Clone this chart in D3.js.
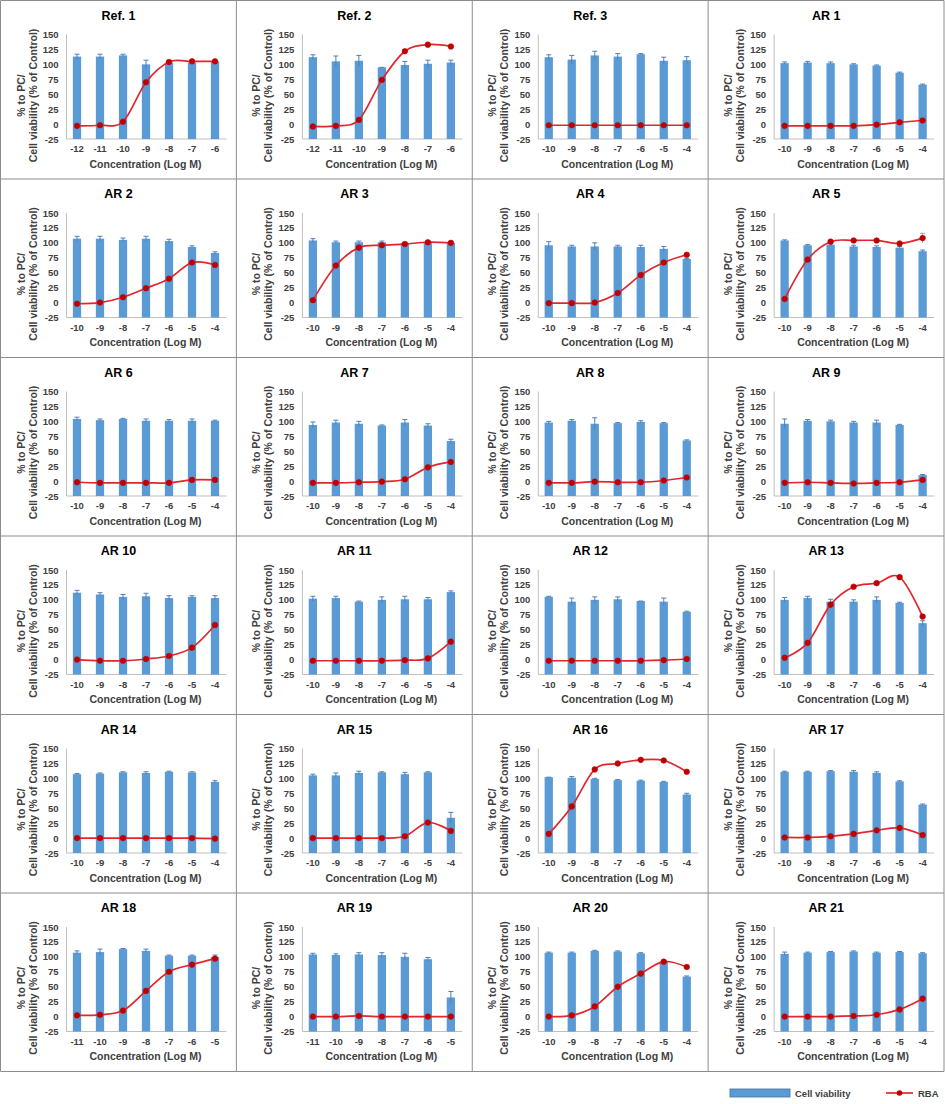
<!DOCTYPE html>
<html>
<head>
<meta charset="utf-8">
<script src="https://cdn.jsdelivr.net/npm/d3@7"></script>
<style>
  html, body { margin: 0; padding: 0; background: #fff; }
  svg { display: block; font-family: "Liberation Sans", Arial, sans-serif; }
</style>
</head>
<body>
<svg id="chart" width="945" height="1104"></svg>
<script>
// ---------------- DATA ----------------
const panelTitles = ["Ref. 1","Ref. 2","Ref. 3","AR 1","AR 2","AR 3","AR 4","AR 5",
  "AR 6","AR 7","AR 8","AR 9","AR 10","AR 11","AR 12","AR 13",
  "AR 14","AR 15","AR 16","AR 17","AR 18","AR 19","AR 20","AR 21"];

const concA = ["-12","-11","-10","-9","-8","-7","-6"];
const concB = ["-10","-9","-8","-7","-6","-5","-4"];
const concC = ["-11","-10","-9","-8","-7","-6","-5"];
const concLabels = [concA, concA, concB, concB, concB, concB, concB, concB,
  concB, concB, concB, concB, concB, concB, concB, concB,
  concB, concB, concB, concB, concC, concC, concB, concB];

const cellViability = [
  [113,113,115,100,103,103,105],
  [112,105,106,95,99,101,103],
  [112,108,115,113,117,106,107],
  [102,103,102,100,98,86,66],
  [107,107,105,107,103,93,83],
  [104,101,101,101,100,102,100],
  [96,94,94,94,93,90,73],
  [104,96,97,94,93,92,86],
  [104,102,104,101,101,101,101],
  [94,98,96,93,98,93,67],
  [98,101,96,97,99,97,68],
  [96,101,100,98,98,94,10],
  [112,109,105,106,103,105,103],
  [102,103,97,100,101,101,113],
  [105,97,100,101,98,97,80],
  [100,103,97,97,100,95,61],
  [107,108,110,109,111,110,94],
  [105,105,109,110,107,110,34],
  [102,101,99,97,96,94,73],
  [111,111,112,111,109,95,56],
  [107,108,113,110,102,102,100],
  [104,103,104,103,100,96,32],
  [107,107,110,109,106,92,67],
  [105,107,108,109,107,108,106]
];

const cellViabilityErr = [
  [4,4,2,7,3,2,2],
  [4,9,9,0,6,6,4],
  [4,7,7,5,1,6,6],
  [2,2,2,1,1,1,1],
  [4,4,3,4,3,2,2],
  [3,2,2,2,1,1,1],
  [6,2,6,2,3,4,1],
  [1,1,2,2,2,2,2],
  [3,2,1,3,2,3,1],
  [5,4,4,1,5,3,3],
  [2,2,10,1,2,1,1],
  [8,2,2,2,4,1,1],
  [4,3,4,5,4,2,4],
  [4,3,1,5,5,3,2],
  [1,6,5,4,0,6,1],
  [4,3,4,3,5,1,4],
  [1,1,1,2,1,1,2],
  [2,4,3,1,3,1,9],
  [0,2,1,1,1,1,2],
  [1,1,1,2,2,1,1],
  [3,5,1,3,1,1,3],
  [2,2,3,4,6,3,10],
  [1,1,1,1,1,1,1],
  [3,1,1,1,1,1,1]
];

const rbaValues = [
  [-3,-2,4,70,104,105,105],
  [-4,-3,7,74,122,133,130],
  [-2,-2,-2,-2,-2,-2,-2],
  [-3,-3,-3,-3,-1,3,6],
  [-2,0,9,24,40,67,63],
  [4,62,92,96,98,101,100],
  [-1,-1,0,16,46,67,80],
  [6,72,102,104,104,99,108],
  [-2,-3,-3,-3,-3,2,2],
  [-3,-3,-2,-1,3,23,32],
  [-3,-3,-1,-2,-2,1,6],
  [-3,-2,-3,-4,-3,-2,2],
  [0,-2,-2,1,6,20,58],
  [-2,-2,-2,-2,-1,2,30],
  [-2,-2,-2,-2,-2,-1,1],
  [3,28,92,122,128,138,72],
  [0,0,0,0,0,0,-1],
  [0,0,0,0,3,26,12],
  [7,53,115,125,131,130,111],
  [1,1,3,7,13,17,5],
  [2,3,10,43,75,87,97],
  [0,0,1,0,0,0,0],
  [0,2,17,50,72,92,83],
  [0,0,0,1,3,12,30]
];

const rbaErr = [
  [0,0,0,0,0,0,0],[0,0,0,0,0,0,0],[0,0,0,0,0,0,0],[0,0,0,0,0,0,0],
  [0,0,0,0,0,0,0],[0,0,0,0,0,0,0],[0,0,0,0,0,0,0],[0,0,0,0,0,0,8],
  [0,0,0,0,0,0,0],[0,0,0,0,0,0,0],[0,0,0,0,0,0,0],[0,0,0,0,0,0,0],
  [0,0,0,0,0,0,0],[0,0,0,0,0,0,0],[0,0,0,0,0,0,0],[0,0,0,0,0,0,3],
  [0,0,0,0,0,0,0],[0,0,0,0,0,0,0],[0,0,0,0,0,0,0],[0,0,0,0,0,0,0],
  [0,0,0,0,0,0,0],[0,0,0,0,0,0,0],[0,0,0,0,0,0,0],[0,0,0,0,0,0,0]
];

const yTicks = [-25, 0, 25, 50, 75, 100, 125, 150];
const yDomain = [-25, 150];
const legendLabels = ["Cell viability", "RBA"];

// ---------------- LAYOUT ----------------
const svg = d3.select("#chart");
const nCols = 4, nRows = 6;
const gridX0 = 0.5, gridY0 = 0.5, gridW = 943.5, gridH = 1071;
const pw = gridW / nCols, ph = gridH / nRows;

const barColor = "#5b9bd5";
const errColor = "#4f7fb8";
const lineColor = "#e3262e";
const markColor = "#c00000";
const textColor = "#404040";

svg.append("rect").attr("width", 945).attr("height", 1104).attr("fill", "#fff");

panelTitles.forEach((title, i) => {
  const col = i % nCols, row = Math.floor(i / nCols);
  const left = gridX0 + col * pw, top = gridY0 + row * ph;
  const g = svg.append("g").attr("transform", `translate(${left},${top})`);

  const y = d3.scaleLinear().domain(yDomain).range([138.5, 34]);
  const x = d3.scaleBand().domain(concLabels[i]).range([65, 226]).padding(0);
  const bw = x.step() * 0.36;

  g.append("text").attr("x", 118).attr("y", 19)
    .attr("text-anchor", "middle").attr("font-size", 12.5).attr("font-weight", "bold")
    .attr("fill", "#000").text(title);

  g.append("line").attr("x1", 66).attr("x2", 66).attr("y1", y(150)).attr("y2", y(-25))
    .attr("stroke", "#bfbfbf").attr("stroke-width", 1);
  g.append("line").attr("x1", 66).attr("x2", 226).attr("y1", y(-25)).attr("y2", y(-25))
    .attr("stroke", "#bfbfbf").attr("stroke-width", 1);

  g.selectAll("text.yt").data(yTicks).enter().append("text")
    .attr("class", "yt").attr("x", 58).attr("y", d => y(d) + 3.5)
    .attr("text-anchor", "end").attr("font-size", 9.5).attr("font-weight", "bold")
    .attr("fill", textColor).text(d => d);

  g.selectAll("text.xt").data(concLabels[i]).enter().append("text")
    .attr("class", "xt").attr("x", d => x(d) + x.bandwidth() / 2).attr("y", 151.5)
    .attr("text-anchor", "middle").attr("font-size", 9.5).attr("font-weight", "bold")
    .attr("fill", textColor).text(d => d);

  g.append("text").attr("x", 145).attr("y", 167)
    .attr("text-anchor", "middle").attr("font-size", 10.5).attr("font-weight", "bold")
    .attr("fill", textColor).text("Concentration (Log M)");
  const yt = g.append("text").attr("transform", "translate(0,95) rotate(-90)")
    .attr("text-anchor", "middle").attr("font-size", 10.5).attr("font-weight", "bold")
    .attr("fill", textColor);
  yt.append("tspan").attr("x", 0).attr("y", 24).text("% to PC/");
  yt.append("tspan").attr("x", 0).attr("y", 36).text("Cell viability (% of Control)");

  const vals = cellViability[i];
  const errs = cellViabilityErr[i];
  const cats = concLabels[i];
  const cx = k => x(cats[k]) + x.bandwidth() / 2;

  g.selectAll("rect.bar").data(vals).enter().append("rect")
    .attr("class", "bar")
    .attr("x", (d, k) => cx(k) - bw / 2)
    .attr("width", bw)
    .attr("y", d => y(d))
    .attr("height", d => y(-25) - y(d))
    .attr("fill", barColor);

  const eb = g.selectAll("g.eb").data(vals).enter().append("g").attr("class", "eb");
  eb.append("line")
    .attr("x1", (d, k) => cx(k)).attr("x2", (d, k) => cx(k))
    .attr("y1", (d, k) => y(d - errs[k])).attr("y2", (d, k) => y(d + errs[k]))
    .attr("stroke", errColor).attr("stroke-width", 1);
  eb.append("line")
    .attr("x1", (d, k) => cx(k) - 2.5).attr("x2", (d, k) => cx(k) + 2.5)
    .attr("y1", (d, k) => y(d + errs[k])).attr("y2", (d, k) => y(d + errs[k]))
    .attr("stroke", errColor).attr("stroke-width", 1);

  const rv = rbaValues[i];
  const re = rbaErr[i];
  const line = d3.line().x((d, k) => cx(k)).y(d => y(d)).curve(d3.curveCatmullRom.alpha(0));
  g.append("path").attr("d", line(rv)).attr("fill", "none")
    .attr("stroke", lineColor).attr("stroke-width", 1.7);
  rv.forEach((v, k) => {
    if (re[k] > 0) {
      g.append("line").attr("x1", cx(k)).attr("x2", cx(k))
        .attr("y1", y(v - re[k])).attr("y2", y(v + re[k]))
        .attr("stroke", "#a0a0a0").attr("stroke-width", 1);
      g.append("line").attr("x1", cx(k) - 2.5).attr("x2", cx(k) + 2.5)
        .attr("y1", y(v + re[k])).attr("y2", y(v + re[k]))
        .attr("stroke", "#a0a0a0").attr("stroke-width", 1);
    }
  });
  g.selectAll("circle.m").data(rv).enter().append("circle")
    .attr("class", "m").attr("cx", (d, k) => cx(k)).attr("cy", d => y(d))
    .attr("r", 2.8).attr("fill", markColor).attr("stroke", markColor).attr("stroke-width", 0.6);
});

const gridG = svg.append("g");
for (let c = 0; c <= nCols; c++) {
  gridG.append("line").attr("x1", gridX0 + c * pw).attr("x2", gridX0 + c * pw)
    .attr("y1", gridY0).attr("y2", gridY0 + gridH)
    .attr("stroke", "#8c8c8c").attr("stroke-width", 1);
}
for (let r = 0; r <= nRows; r++) {
  gridG.append("line").attr("x1", gridX0).attr("x2", gridX0 + gridW)
    .attr("y1", gridY0 + r * ph).attr("y2", gridY0 + r * ph)
    .attr("stroke", "#8c8c8c").attr("stroke-width", 1);
}

const lg = svg.append("g").attr("transform", "translate(0,1093)");
lg.append("rect").attr("x", 730).attr("y", -4).attr("width", 60).attr("height", 8)
  .attr("fill", barColor).attr("stroke", "#41719c").attr("stroke-width", 0.8);
lg.append("text").attr("x", 795).attr("y", 3.5).attr("font-size", 9.5).attr("font-weight", "bold")
  .attr("fill", textColor).text(legendLabels[0]);
lg.append("line").attr("x1", 886).attr("x2", 913).attr("y1", 0).attr("y2", 0)
  .attr("stroke", lineColor).attr("stroke-width", 1.7);
lg.append("circle").attr("cx", 899.5).attr("cy", 0).attr("r", 2.8).attr("fill", markColor);
lg.append("text").attr("x", 918).attr("y", 3.5).attr("font-size", 9.5).attr("font-weight", "bold")
  .attr("fill", textColor).text(legendLabels[1]);
</script>
</body>
</html>
